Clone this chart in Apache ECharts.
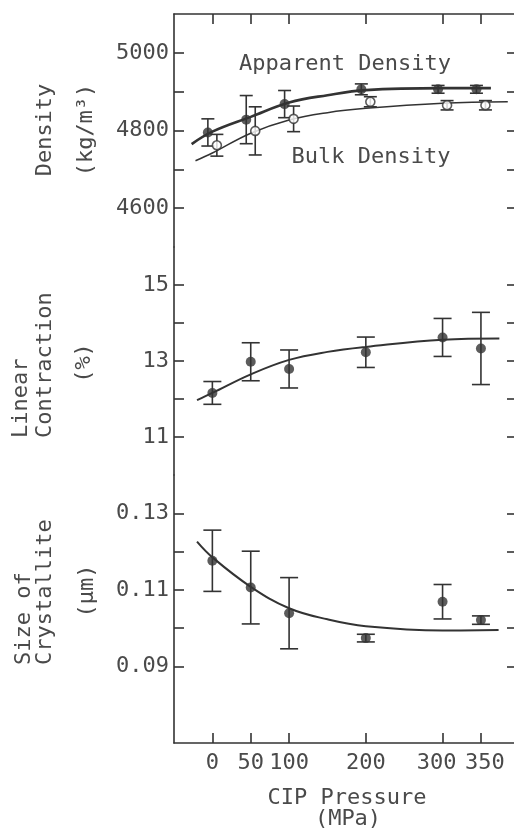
<!DOCTYPE html>
<html>
<head>
<meta charset="utf-8">
<title>CIP pressure</title>
<script src="https://cdn.jsdelivr.net/npm/echarts@6/dist/echarts.min.js"></script>
<style>
  html, body { margin: 0; padding: 0; background: #fff; }
  #chart { width: 514px; height: 832px; }
</style>
</head>
<body>
<div id="chart"></div>
<script>
// CIP pressure (MPa)
var pressures = [0, 50, 100, 200, 300, 350];

// density (kg/m3)
var apparentDensity = [4795, 4828, 4868, 4906, 4906, 4906];
var apparentErr = [35, 62, 35, 14, 10, 10];
var bulkDensity = [4762, 4799, 4830, 4874, 4865, 4865];
var bulkErr = [28, 62, 33, 13, 12, 12];
var apparentFitX = [-27, 0, 50, 100, 150, 200, 300, 363];
var apparentFitY = [4765, 4797, 4835, 4872, 4891, 4904, 4909, 4909];
var bulkFitX = [-22, 0, 50, 100, 150, 200, 300, 385];
var bulkFitY = [4722, 4742, 4793, 4827, 4846, 4857, 4870, 4874];

// linear contraction (%)
var contraction = [12.16, 12.98, 12.79, 13.23, 13.62, 13.33];
var contractionErr = [0.3, 0.5, 0.5, 0.4, 0.5, 0.95];
var contractionFitX = [-20, 0, 50, 100, 150, 200, 300, 374];
var contractionFitY = [11.97, 12.16, 12.65, 13.03, 13.24, 13.37, 13.56, 13.59];

// size of crystallite (um)
var crystallite = [0.1176, 0.1106, 0.1039, 0.0974, 0.1069, 0.1021];
var crystalliteErr = [0.008, 0.0095, 0.0093, 0.001, 0.0045, 0.0011];
var crystalliteFitX = [-20, 0, 50, 100, 150, 200, 300, 373];
var crystalliteFitY = [0.1226, 0.1185, 0.1108, 0.1052, 0.1023, 0.1005, 0.0994, 0.0995];

// tick labels
var densityTicks = [4600, 4700, 4800, 4900, 5000];
var densityLabels = [4600, 4800, 5000];
var contractionTicks = [11, 12, 13, 14, 15];
var contractionLabels = [11, 13, 15];
var crystalliteTicks = [0.09, 0.10, 0.11, 0.12, 0.13];
var crystalliteLabels = [0.09, 0.11, 0.13];

var ink = '#333';
var textColor = '#4a4a4a';
var mono = 'DejaVu Sans Mono';

var chart = echarts.init(document.getElementById('chart'));

function pairs(xs, ys) {
  return xs.map(function (x, i) { return [x, ys[i]]; });
}
function bars(vals, errs) {
  return pressures.map(function (p, i) { return [p, vals[i] - errs[i], vals[i] + errs[i]]; });
}
// error bar drawing, dx = sideways shift in px, w = half cap width
function errorBar(dx, w) {
  return function (params, api) {
    var top = api.coord([api.value(0), api.value(2)]);
    var bot = api.coord([api.value(0), api.value(1)]);
    var cx = top[0] + dx;
    var st = { stroke: ink, lineWidth: 1.6 };
    return {
      type: 'group',
      children: [
        { type: 'line', shape: { x1: cx, y1: top[1], x2: cx, y2: bot[1] }, style: st },
        { type: 'line', shape: { x1: cx - w, y1: top[1], x2: cx + w, y2: top[1] }, style: st },
        { type: 'line', shape: { x1: cx - w, y1: bot[1], x2: cx + w, y2: bot[1] }, style: st }
      ]
    };
  };
}

// the printed 300 / 350 labels sit a little apart from their ticks
var labelFont = { color: textColor, fontFamily: mono, fontSize: 22 };
function pressureLabel(v) {
  if (v === 300) return '{l|300}';
  if (v === 350) return '{r|350}';
  return String(v);
}

function xAx(g, pos, show, labels) {
  return {
    type: 'value', gridIndex: g, position: pos, show: show,
    min: -50, max: 397,
    axisLine: { show: true, onZero: false, lineStyle: { color: ink, width: 1.6 } },
    axisTick: { show: true, inside: true, length: 10, customValues: pressures, lineStyle: { color: ink, width: 1.6 } },
    axisLabel: {
      show: labels, customValues: pressures, hideOverlap: false, showMinLabel: true, showMaxLabel: true,
      margin: 9, color: textColor, fontFamily: mono, fontSize: 22, formatter: pressureLabel,
      rich: {
        l: Object.assign({ padding: [0, 12, 0, 0] }, labelFont),
        r: Object.assign({ padding: [0, 0, 0, 8] }, labelFont)
      }
    },
    splitLine: { show: false }
  };
}
function yAx(g, pos, min, max, step, ticks, labels, fmt) {
  return {
    type: 'value', gridIndex: g, position: pos,
    min: min, max: max, interval: step,
    axisLine: { show: true, onZero: false, lineStyle: { color: ink, width: 1.6 } },
    axisTick: { show: true, inside: true, length: 10, customValues: ticks, lineStyle: { color: ink, width: 1.6 } },
    axisLabel: { show: pos === 'left', customValues: labels, showMinLabel: true, showMaxLabel: true, margin: 5, color: textColor, fontFamily: mono, fontSize: 22, formatter: fmt },
    splitLine: { show: false }
  };
}

function vtext(x, y, str, align) {
  return {
    type: 'text', x: x, y: y, rotation: Math.PI / 2,
    style: { text: str, fill: textColor, font: '22px "' + mono + '"', align: align, verticalAlign: 'middle' }
  };
}
function htext(x, y, str) {
  return {
    type: 'text', x: x, y: y,
    style: { text: str, fill: textColor, font: '22px "' + mono + '"', align: 'center', verticalAlign: 'middle' }
  };
}

var fmt2 = function (v) { return v.toFixed(2); };
var fmt0 = function (v) { return String(Math.round(v)); };

chart.setOption({
  animation: false,
  backgroundColor: '#fff',
  grid: [
    { left: 174, width: 343, top: 14, height: 233, outerBoundsMode: 'none' },
    { left: 174, width: 343, top: 247, height: 228, outerBoundsMode: 'none' },
    { left: 174, width: 343, top: 475, height: 268, outerBoundsMode: 'none' }
  ],
  xAxis: [
    xAx(0, 'top', true, false),
    xAx(1, 'bottom', false, false),
    xAx(2, 'bottom', true, true)
  ],
  yAxis: [
    yAx(0, 'left', 4500, 5100, 100, densityTicks, densityLabels, fmt0),
    yAx(0, 'right', 4500, 5100, 100, densityTicks, densityLabels, fmt0),
    yAx(1, 'left', 10, 16, 1, contractionTicks, contractionLabels, fmt0),
    yAx(1, 'right', 10, 16, 1, contractionTicks, contractionLabels, fmt0),
    yAx(2, 'left', 0.07, 0.14, 0.01, crystalliteTicks, crystalliteLabels, fmt2),
    yAx(2, 'right', 0.07, 0.14, 0.01, crystalliteTicks, crystalliteLabels, fmt2)
  ],
  graphic: [
    vtext(45, 130, 'Density', 'center'),
    vtext(86, 130, '(kg/m³)', 'center'),
    vtext(21, 438, 'Linear', 'left'),
    vtext(45, 438, 'Contraction', 'left'),
    vtext(84, 363, '(%)', 'center'),
    vtext(24, 665, 'Size of', 'left'),
    vtext(45, 665, 'Crystallite', 'left'),
    vtext(87, 591, '(μm)', 'center'),
    htext(345, 64, 'Apparent Density'),
    htext(371, 157, 'Bulk Density'),
    htext(347, 798, 'CIP Pressure'),
    htext(348, 819, '(MPa)')
  ],
  series: [
    // density
    { type: 'line', xAxisIndex: 0, yAxisIndex: 0, data: pairs(apparentFitX, apparentFitY), smooth: 0.4, showSymbol: false, lineStyle: { color: ink, width: 2.6 } },
    { type: 'line', xAxisIndex: 0, yAxisIndex: 0, data: pairs(bulkFitX, bulkFitY), smooth: 0.4, showSymbol: false, lineStyle: { color: ink, width: 1.5 } },
    { type: 'custom', xAxisIndex: 0, yAxisIndex: 0, data: bars(apparentDensity, apparentErr), renderItem: errorBar(-4.5, 6.5), z: 3 },
    { type: 'custom', xAxisIndex: 0, yAxisIndex: 0, data: bars(bulkDensity, bulkErr), renderItem: errorBar(4.5, 6.5), z: 3 },
    { type: 'scatter', xAxisIndex: 0, yAxisIndex: 0, data: pairs(pressures, apparentDensity), symbolSize: 10, symbolOffset: [-4.5, 0], itemStyle: { color: ink }, z: 4 },
    { type: 'scatter', xAxisIndex: 0, yAxisIndex: 0, data: pairs(pressures, bulkDensity), symbolSize: 9, symbolOffset: [4.5, 0], itemStyle: { color: '#fff', borderColor: ink, borderWidth: 1.6 }, z: 4 },
    // linear contraction
    { type: 'line', xAxisIndex: 1, yAxisIndex: 2, data: pairs(contractionFitX, contractionFitY), smooth: 0.4, showSymbol: false, lineStyle: { color: ink, width: 2 } },
    { type: 'custom', xAxisIndex: 1, yAxisIndex: 2, data: bars(contraction, contractionErr), renderItem: errorBar(0, 9), z: 3 },
    { type: 'scatter', xAxisIndex: 1, yAxisIndex: 2, data: pairs(pressures, contraction), symbolSize: 10, itemStyle: { color: ink }, z: 4 },
    // size of crystallite
    { type: 'line', xAxisIndex: 2, yAxisIndex: 4, data: pairs(crystalliteFitX, crystalliteFitY), smooth: 0.4, showSymbol: false, lineStyle: { color: ink, width: 2 } },
    { type: 'custom', xAxisIndex: 2, yAxisIndex: 4, data: bars(crystallite, crystalliteErr), renderItem: errorBar(0, 9), z: 3 },
    { type: 'scatter', xAxisIndex: 2, yAxisIndex: 4, data: pairs(pressures, crystallite), symbolSize: 10, itemStyle: { color: ink }, z: 4 }
  ]
});
</script>
</body>
</html>
